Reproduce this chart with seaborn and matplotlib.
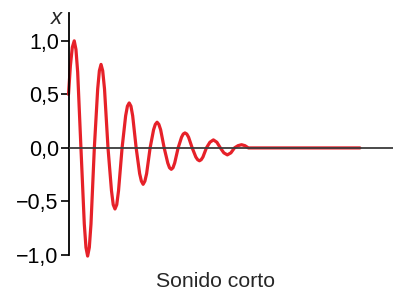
import matplotlib
matplotlib.use("Agg")
import matplotlib.pyplot as plt
import seaborn as sns
import pandas as pd

# --- data (time in arbitrary units, period ~1) ---
t = [0.0, 0.07, 0.14, 0.21, 0.2725, 0.335, 0.455,
     0.5775, 0.6388, 0.70, 0.7613, 0.8225, 0.945,
     1.0675, 1.1288, 1.19, 1.2513, 1.3175, 1.445,
     1.5725, 1.636, 1.70, 1.765, 1.83, 1.96,
     2.09, 2.155, 2.22, 2.284, 2.3475, 2.475,
     2.6025, 2.666, 2.73, 2.794, 2.8575, 2.985,
     3.1125, 3.176, 3.24, 3.305, 3.37, 3.50,
     3.63, 3.695, 3.76, 3.8225, 3.885, 4.01,
     4.135, 4.1975, 4.26, 4.326, 4.3925, 4.525,
     4.6575, 4.724, 4.79, 4.854, 4.9175, 5.045,
     5.1725, 5.30, 5.4275, 5.555,
     5.6825, 5.81, 5.94, 6.07,
     6.20, 6.33, 6.455, 6.58,
     10.66]
x = [0.50, 0.77, 0.94, 1.00, 0.92, 0.71, 0.0,
     -0.71, -0.93, -1.01, -0.93, -0.71, 0.0,
     0.55, 0.72, 0.78, 0.72, 0.55, 0.0,
     -0.40, -0.53, -0.57, -0.53, -0.40, 0.0,
     0.30, 0.39, 0.42, 0.39, 0.30, 0.0,
     -0.24, -0.31, -0.34, -0.31, -0.24, 0.0,
     0.17, 0.22, 0.24, 0.22, 0.17, 0.0,
     -0.14, -0.185, -0.20, -0.185, -0.14, 0.0,
     0.10, 0.13, 0.14, 0.13, 0.10, 0.0,
     -0.085, -0.11, -0.12, -0.11, -0.085, 0.0,
     0.053, 0.075, 0.053, 0.0,
     -0.046, -0.065, -0.046, 0.0,
     0.021, 0.030, 0.021, 0.0,
     0.0]

ytick_vals = [1.0, 0.5, 0.0, -0.5, -1.0]
ytick_labels = ["1,0", "0,5", "0,0", "\u22120,5", "\u22121,0"]
ylabel_text = "x"
caption = "Sonido corto"

sns.set_style("white")
plt.rcParams["font.family"] = ["Liberation Sans", "DejaVu Sans"]

fig = plt.figure(figsize=(3.93, 2.91), dpi=100)
ax = fig.add_axes([68.5 / 393, (291 - 255) / 291, 1 - 68.5 / 393, (255 - 13) / 291])

df = pd.DataFrame({"t": t, "x": x})
sns.lineplot(data=df, x="t", y="x", ax=ax, color="#e62129", linewidth=2.3,
             sort=False, zorder=2, clip_on=False)
ax.axhline(0, color="#3c3c3c", linewidth=1.3, zorder=3)

ax.set_xlim(0, 11.87)
ax.set_ylim(-1.0, 1.26)
ax.set_xticks([])
ax.set_yticks(ytick_vals)
ax.set_yticklabels(ytick_labels, fontsize=15.5)
ax.tick_params(axis="y", direction="out", length=6, width=1.2, pad=1.0,
               colors="black", left=True)
for s in ["top", "right", "bottom"]:
    ax.spines[s].set_visible(False)
ax.spines["left"].set_color("black")
ax.spines["left"].set_linewidth(1.3)
ax.set_xlabel("")
ax.set_ylabel("")

fig.text(62 / 393, 1 - 23.5 / 291, ylabel_text, ha="right", va="baseline",
         fontsize=16, style="italic")
fig.text(216 / 393, 1 - 287 / 291, caption, ha="center", va="baseline",
         fontsize=15.3)

fig.savefig("out.png", dpi=100)
